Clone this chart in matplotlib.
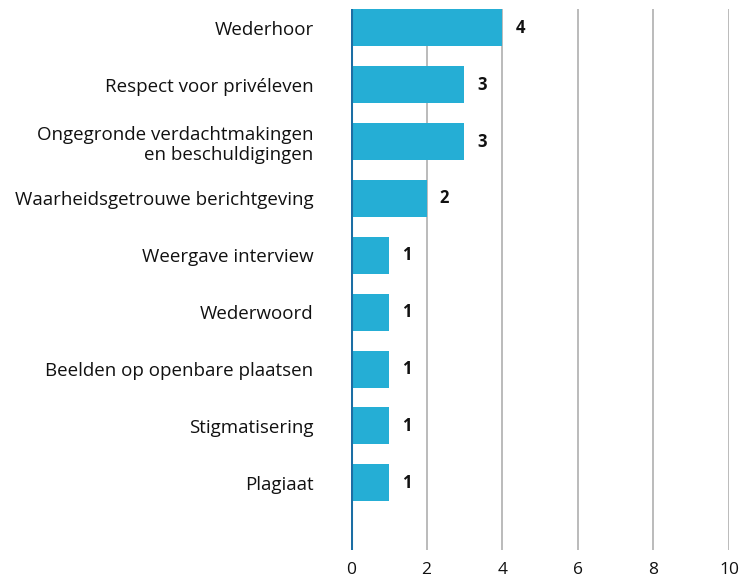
import matplotlib
matplotlib.use("Agg")
import matplotlib.pyplot as plt

# categories and counts (top to bottom)
categories = [
    "Wederhoor",
    "Respect voor privéleven",
    "Ongegronde verdachtmakingen\nen beschuldigingen",
    "Waarheidsgetrouwe berichtgeving",
    "Weergave interview",
    "Wederwoord",
    "Beelden op openbare plaatsen",
    "Stigmatisering",
    "Plagiaat",
]
counts = [4, 3, 3, 2, 1, 1, 1, 1, 1]
xticks = [0, 2, 4, 6, 8, 10]

plt.rcParams["font.family"] = ["Open Sans", "DejaVu Sans"]

fig = plt.figure(figsize=(7.41, 5.84), dpi=100)
ax = fig.add_axes([351 / 741, 1 - 550 / 584, (729 - 351) / 741, (550 - 9) / 584])

ypos = list(range(len(categories)))
ax.barh(ypos, counts, height=0.65, color="#25AED5", zorder=3)

# value labels
for y, v in zip(ypos, counts):
    ax.text(v + 0.35, y, str(v), va="center", ha="left",
            fontsize=12, fontweight="bold", color="#111111")

ax.set_xlim(0, 10)
ax.set_ylim(9.18, -0.33)
ax.set_xticks(xticks)
ax.set_yticks(ypos)
ax.set_yticklabels(categories, fontsize=13.5, color="#111111", ha="right",
                   multialignment="right", linespacing=1.15)
ax.tick_params(axis="y", length=0, pad=27)
ax.tick_params(axis="x", length=0, pad=9, labelsize=12.5, labelcolor="#111111")

for x in xticks[1:]:
    ax.axvline(x, color="#B5B5B5", lw=1.3, zorder=1)
ax.axvline(0, color="#1C6EA4", lw=2.2, zorder=4)

for s in ax.spines.values():
    s.set_visible(False)

fig.savefig("out.png", dpi=100)
